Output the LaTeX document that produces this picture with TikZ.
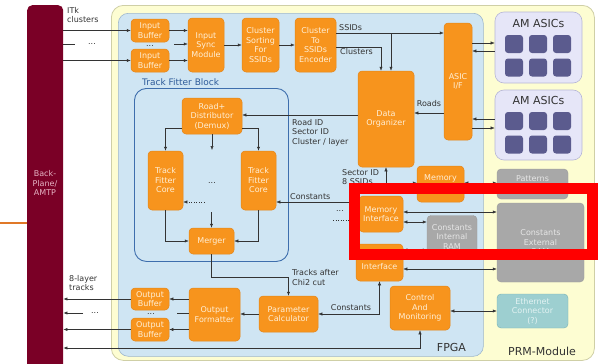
\documentclass[tikz,border=0pt]{standalone}
\usepackage{fontspec}
\setmainfont{DejaVu Sans}
\usetikzlibrary{arrows.meta,calc}
\definecolor{orfill}{HTML}{F7941D}
\definecolor{orbd}{HTML}{E3861A}
\definecolor{ortext}{HTML}{FFEFD6}
\definecolor{ylfill}{HTML}{FDFDD2}
\definecolor{ylbd}{HTML}{CFCFA6}
\definecolor{blfill}{HTML}{CFE5F3}
\definecolor{blbd}{HTML}{9DB6CC}
\definecolor{tfbd}{HTML}{3E6EAD}
\definecolor{tfbtext}{HTML}{2F5C9A}
\definecolor{amfill}{HTML}{E6E6F8}
\definecolor{ambd}{HTML}{B6B6D6}
\definecolor{chip}{HTML}{5B5B8E}
\definecolor{grfill}{HTML}{A8A8A8}
\definecolor{grbd}{HTML}{9A9A9A}
\definecolor{grtext}{HTML}{E6E6E6}
\definecolor{etfill}{HTML}{9DCFD0}
\definecolor{etbd}{HTML}{76B0B2}
\definecolor{ettext}{HTML}{E2F2F2}
\definecolor{bpcol}{HTML}{7A0026}
\definecolor{bptext}{HTML}{E6B4C4}
\definecolor{lncol}{HTML}{333333}
\definecolor{orline}{HTML}{E07828}
\begin{document}
\begin{tikzpicture}[x=1pt,y=-1pt,
  ob/.style={draw=orbd, fill=orfill, rounded corners=4pt, text=ortext,
    font=\fontsize{8}{9.5}\selectfont, align=center, inner sep=0pt, line width=0.5pt},
  gb/.style={draw=grbd, fill=grfill, rounded corners=4pt, text=grtext,
    font=\fontsize{8}{9.5}\selectfont, align=center, inner sep=0pt},
  lbl/.style={font=\fontsize{8}{9.5}\selectfont, text=lncol, inner sep=0pt},
  dots/.style={font=\fontsize{8}{9.5}\selectfont, text=lncol, inner sep=0pt, text height=1pt, text depth=0pt},
  big/.style={font=\fontsize{11}{13}\selectfont, text=lncol, inner sep=0pt},
  ln/.style={draw=lncol, line width=0.5pt},
  arr/.style={ln, -{Latex[length=4pt,width=3.2pt]}},
  arrb/.style={ln, {Latex[length=4pt,width=3.2pt]}-{Latex[length=4pt,width=3.2pt]}},
  chipbox/.style={fill=chip, rounded corners=3pt, minimum width=18pt, minimum height=18pt, inner sep=0pt}
]
\useasboundingbox (0,0) rectangle (603,364);
\clip (0,0) rectangle (603,364);
\fill[white] (0,0) rectangle (603,364);

% containers
\node[draw=ylbd, fill=ylfill, rounded corners=12pt, minimum width=483pt, minimum height=355pt, anchor=north west, inner sep=0pt, line width=0.8pt] (prm) at (111,5) {};
\node[draw=blbd, fill=blfill, rounded corners=10pt, minimum width=365pt, minimum height=343pt, anchor=north west, inner sep=0pt, line width=0.6pt] (fpga) at (118,13) {};
\node[draw=tfbd, rounded corners=12pt, minimum width=154pt, minimum height=173pt, anchor=north west, inner sep=0pt, line width=0.9pt] (tfb) at (134,88) {};
\node[font=\fontsize{9}{11}\selectfont, text=tfbtext, anchor=west, inner sep=0pt] (tfbt) at (142,82) {Track Fitter Block};
\node[big] (fpgat) at (451.5,347) {FPGA};
\node[big] (prmt) at (542,351) {PRM-Module};

% back-plane
\node[fill=bpcol, rounded corners=5pt, minimum width=36pt, minimum height=380pt, anchor=north west, inner sep=0pt] (bp) at (27,5) {};
\node[font=\fontsize{8}{9.5}\selectfont, text=bptext, align=center, inner sep=0pt] (bpt) at (45,183) {Back-\\Plane/\\AMTP};
\coordinate (ol) at (0,223);
\draw[orline, line width=2.5pt] (ol) -- (bp.west |- ol);

% orange boxes
\node[ob, minimum width=38pt, minimum height=23pt] (ib1) at (150,30.5) {Input\\Buffer};
\node[ob, minimum width=38pt, minimum height=23pt] (ib2) at (150,60.5) {Input\\Buffer};
\node[ob, minimum width=36pt, minimum height=54pt] (ism) at (206,45) {Input\\Sync\\Module};
\node[ob, minimum width=37pt, minimum height=54pt] (csort) at (260.5,45) {Cluster\\Sorting\\For\\SSIDs};
\node[ob, minimum width=41pt, minimum height=54pt] (cenc) at (315.5,45) {Cluster\\To\\SSIDs\\Encoder};
\node[ob, minimum width=56pt, minimum height=96pt] (dorg) at (386,119) {Data\\Organizer};
\node[ob, minimum width=28pt, minimum height=117pt] (asic) at (458,81.5) {ASIC\\I/F};
\node[ob, minimum width=60pt, minimum height=36pt] (dist) at (212,116) {Road+\\Distributor\\(Demux)};
\node[ob, minimum width=35pt, minimum height=59pt] (tfc1) at (165.5,180.5) {Track\\Fitter\\Core};
\node[ob, minimum width=35pt, minimum height=59pt] (tfc2) at (258.5,180.5) {Track\\Fitter\\Core};
\node[ob, minimum width=45pt, minimum height=26pt] (merger) at (211.5,241) {Merger};
\node[ob, minimum width=47pt, minimum height=36pt] (mem) at (440.5,184) {};
\node[lbl, text=ortext] (memt) at (440.5,178.5) {Memory};
\node[ob, minimum width=44pt, minimum height=36pt] (mi) at (381,214) {Memory\\Interface};
\node[ob, minimum width=47pt, minimum height=37pt] (iface) at (379.5,262.5) {};
\node[lbl, text=ortext] (ifacet) at (379.5,267) {Interface};
\node[ob, minimum width=60pt, minimum height=44pt] (cm) at (420,308) {Control\\And\\Monitoring};
\node[ob, minimum width=59pt, minimum height=36pt] (pc) at (288.5,314) {Parameter\\Calculator};
\node[ob, minimum width=51pt, minimum height=53pt] (of) at (214.5,314.5) {Output\\Formatter};
\node[ob, minimum width=38pt, minimum height=22pt] (ob1) at (150,299) {Output\\Buffer};
\node[ob, minimum width=38pt, minimum height=23pt] (ob2) at (150,329.5) {Output\\Buffer};

% gray / teal boxes
\node[gb, minimum width=71pt, minimum height=30pt] (patterns) at (532.5,184) {};
\node[lbl, text=grtext] (patt) at (532.5,179) {Patterns};
\node[gb, minimum width=87pt, minimum height=79pt] (cer) at (540.5,242.5) {Constants\\External\\RAM};
\node[gb, minimum width=50pt, minimum height=43pt] (cir) at (452,237) {Constants\\Internal\\RAM};
\node[draw=etbd, fill=etfill, rounded corners=4pt, text=ettext, font=\fontsize{8}{9.5}\selectfont, align=center, inner sep=0pt, minimum width=71pt, minimum height=34pt] (eth) at (532.5,311) {Ethernet\\Connector\\(?)};

% AM ASICs
\node[draw=ambd, fill=amfill, rounded corners=9pt, minimum width=87pt, minimum height=71pt, inner sep=0pt, line width=0.6pt] (am1) at (538.5,47.5) {};
\node[draw=ambd, fill=amfill, rounded corners=9pt, minimum width=87pt, minimum height=70pt, inner sep=0pt, line width=0.6pt] (am2) at (538.5,125) {};
\node[font=\fontsize{11}{13}\selectfont, text=lncol, inner sep=0pt] (am1t) at (538.5,23) {AM ASICs};
\node[font=\fontsize{11}{13}\selectfont, text=lncol, inner sep=0pt] (am2t) at (538.5,100) {AM ASICs};
\foreach \cx [count=\i] in {514,538,562}{
  \node[chipbox] (a1r1c\i) at (\cx,44) {};
  \node[chipbox] (a1r2c\i) at (\cx,67.5) {};
  \node[chipbox] (a2r1c\i) at (\cx,121) {};
  \node[chipbox] (a2r2c\i) at (\cx,144.5) {};
}

% input side
\node[lbl, anchor=north west, align=left] (itk) at (67,7) {ITk\\clusters};
\draw[arr] (bp.east |- ib1.west) -- (ib1.west);
\draw[arr] (bp.east |- ib2.west) -- (ib2.west);
\coordinate (im) at (75,44);
\draw[ln] (bp.east |- im) -- (im);
\node[dots] (imd) at (92,44) {...};
\node[dots] (ibd) at (150,45.5) {...};
\coordinate (im2) at (174,44);
\draw[arr] (im2) -- (ism.west |- im2);
\draw[arr] (ib1.east) -- (ism.west |- ib1.east);
\draw[arr] (ib2.east) -- (ism.west |- ib2.east);
\draw[arr] (ism.east) -- (csort.west);
\draw[arr] (csort.east) -- (cenc.west);

% SSIDs / clusters
\coordinate (ssb) at (391,33);
\draw[arr] (cenc.east |- ssb) -- (asic.west |- ssb);
\draw[arr] (ssb) -- (dorg.north -| ssb);
\node[lbl, anchor=south west] (ssidt) at (339,31) {SSIDs};
\coordinate (clb) at (381,47);
\draw[arr] (cenc.east |- clb) -| (dorg.north -| clb);
\node[lbl, anchor=west] (clt) at (340,52) {Clusters};

% roads
\coordinate (rd) at (0,113);
\draw[arr] (asic.west |- rd) -- (dorg.east |- rd);
\node[lbl] (rdt) at (429,104) {Roads};
\coordinate (rid) at (0,115);
\draw[arr] (dorg.west |- rid) -- (dist.east |- rid);
\node[lbl, anchor=north west, align=left] (ridt) at (292,119) {Road ID\\Sector ID\\Cluster / layer};

% AM links
\coordinate (a1) at (0,43); \coordinate (a2) at (0,51);
\coordinate (a3) at (0,119); \coordinate (a4) at (0,128);
\draw[arr] (asic.east |- a1) -- (am1.west |- a1);
\draw[arr] (am1.west |- a2) -- (asic.east |- a2);
\draw[arr] (am2.west |- a3) -- (asic.east |- a3);
\draw[arr] (asic.east |- a4) -- (am2.west |- a4);

% track fitter block internals
\coordinate (dl) at (0,128);
\draw[arr] (dist.west |- dl) -| (tfc1.north);
\draw[arr] (dist.east |- dl) -| (tfc2.north);
\coordinate (dmid) at (212,150);
\draw[arr] (dist.south) -- (dmid);
\node[dots] (cored) at (212,183) {...};
\draw[arr] (tfc1.south) |- (merger.west);
\draw[arr] (tfc2.south) |- (merger.east);
\coordinate (mmid) at (211.5,212);
\draw[arr] (mmid) -- (merger.north);

% constants to cores
\coordinate (cst) at (0,202);
\draw[arr] (mi.west |- cst) -- (tfc2.east |- cst);
\node[lbl, anchor=south west] (cstt) at (290,200) {Constants};
\coordinate (dots1) at (204,202);
\draw[arr, dotted] (dots1) -- (tfc1.east |- dots1);
\node[dots] (mid1) at (340,211) {...};
\coordinate (mdl) at (333,220); \coordinate (mdr) at (349,220);
\draw[ln, dotted] (mdl) -- (mdr);

% memory links
\coordinate (m1) at (0,183);
\draw[arrb] (mem.west |- m1) -| (dorg.south);
\node[lbl, anchor=north west, align=left] (sect) at (342,169) {Sector ID\\8 SSIDs};
\draw[arrb] (mem.east |- m1) -- (patterns.west |- m1);
\coordinate (m2) at (0,212); \coordinate (m3) at (0,222);
\coordinate (m4) at (0,250); \coordinate (m5) at (0,269);
\draw[arrb] (mi.east |- m2) -- (cer.west |- m2);
\draw[arrb] (mi.east |- m3) -- (cir.west |- m3);
\draw[arrb] (iface.east |- m4) -- (cir.west |- m4);
\draw[arrb] (iface.east |- m5) -- (cer.west |- m5);

% output path
\draw[arrb] (iface.south) |- (pc.east);
\node[lbl, anchor=south] (cst2t) at (351,311) {Constants};
\draw[arr] (merger.south) |- (pc.north |- 0,277) -- (pc.north);
\node[lbl, anchor=west, align=left] (trt) at (292,277.5) {Tracks after\\Chi2 cut};
\draw[arr] (pc.west) -- (of.east |- pc.west);
\draw[arr] (of.west |- ob1.east) -- (ob1.east);
\draw[arr] (of.west |- ob2.east) -- (ob2.east);
\draw[arr] (ob1.west) -- (bp.east |- ob1.west);
\draw[arr] (ob2.west) -- (bp.east |- ob2.west);
\coordinate (om) at (177,313);
\draw[ln] (of.west |- om) -- (om);
\node[dots] (obd) at (151,314) {...};
\coordinate (om2) at (83,313);
\draw[arr] (om2) -- (bp.east |- om2);
\node[dots] (omd) at (95,313) {...};
\node[lbl, anchor=west, align=left] (l8) at (69,283) {8-layer\\tracks};

% control & monitoring
\coordinate (cmb) at (0,348);
\draw[arrb] (cm.south) |- (bp.east |- cmb);
\coordinate (ce) at (0,311);
\draw[arrb] (cm.east |- ce) -- (eth.west |- ce);

% highlight frame
\node[draw=red, line width=11pt, minimum width=238pt, minimum height=66pt, inner sep=0pt] (hl) at (473.5,221.5) {};
\end{tikzpicture}
\end{document}
